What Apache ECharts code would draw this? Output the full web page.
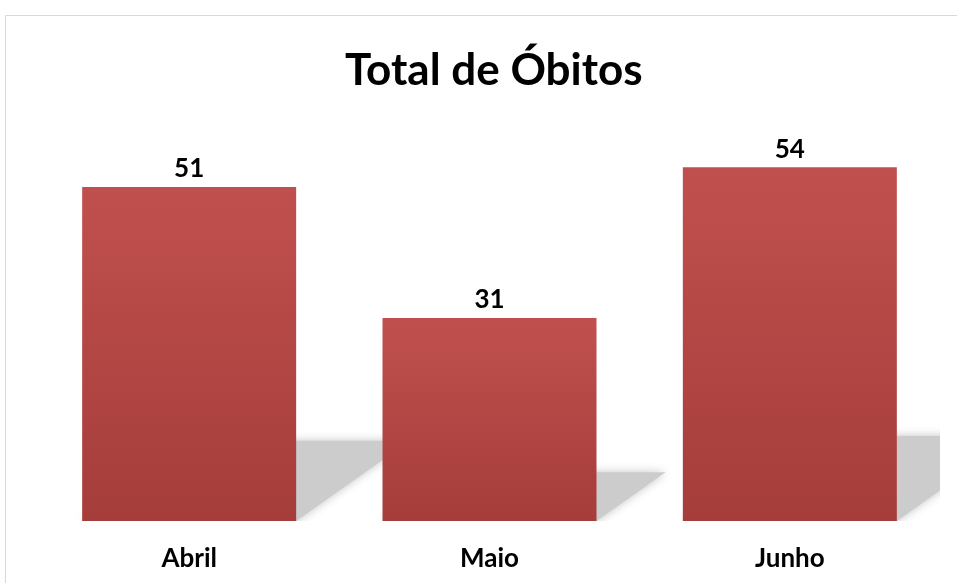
<!DOCTYPE html>
<html>
<head>
<meta charset="utf-8">
<script src="https://cdn.jsdelivr.net/npm/echarts@6/dist/echarts.min.js"></script>
<style>
html,body{margin:0;padding:0;background:#fff;}
#main{width:957px;height:583px;}
</style>
</head>
<body>
<div id="main"></div>
<script>
var meses = ['Abril', 'Maio', 'Junho'];
var obitos = [51, 31, 54];

window.onload = function(){
	grafico();
}

function grafico() {
	var myChart = echarts.init(document.getElementById('main'));
	var fonte = 'Lato';

	// sombra em perspectiva atrás de cada barra
	function sombra(params, api) {
		var idx = api.value(0);
		var v = api.value(1);
		var base = api.coord([idx, 0]);
		var topo = api.coord([idx, v]);
		var meia = 107;
		var h = base[1] - topo[1];
		var dx = h * 0.34, dy = h * 0.24;
		var x0 = base[0] - meia, x1 = base[0] + meia, y = base[1];
		return {
			type: 'polygon',
			shape: { points: [[x0, y], [x1, y], [x1 + dx, y - dy], [x0 + dx, y - dy]] },
			style: { fill: '#cccccc', shadowBlur: 10, shadowColor: 'rgba(190,190,190,0.9)' }
		};
	}

	myChart.setOption({
		backgroundColor: '#fff',
		animation: false,
		graphic: [{
			type: 'rect',
			shape: { x: 5.5, y: 15.5, width: 1000, height: 1000 },
			style: { fill: 'none', stroke: '#d9d9d9', lineWidth: 1 },
			z: -10
		}],
		title: {
			text: 'Total de Óbitos',
			left: 340,
			top: 44,
			textStyle: { fontFamily: fonte, fontWeight: 'bold', fontSize: 44, color: '#000' }
		},
		grid: { left: 39, right: 17, top: 128, bottom: 62 },
		xAxis: {
			type: 'category',
			data: meses,
			axisLine: { show: false },
			axisTick: { show: false },
			axisLabel: { margin: 25, fontFamily: fonte, fontWeight: 'bold', fontSize: 26, color: '#000' }
		},
		yAxis: {
			type: 'value',
			min: 0,
			max: 60,
			show: false,
			splitLine: { show: false }
		},
		series: [{
			type: 'custom',
			clip: true,
			renderItem: sombra,
			data: obitos.map(function(v, i){ return [i, v]; }),
			z: 1,
			silent: true
		}, {
			name: 'Óbitos',
			type: 'bar',
			data: obitos,
			barWidth: 214,
			z: 2,
			itemStyle: {
				color: new echarts.graphic.LinearGradient(0, 0, 0, 1, [
					{ offset: 0, color: '#C0504D' },
					{ offset: 1, color: '#A53D3B' }
				])
			},
			label: {
				show: true,
				position: 'top',
				distance: 5,
				fontFamily: fonte,
				fontWeight: 'bold',
				fontSize: 26,
				color: '#000'
			}
		}]
	});
}
</script>
</body>
</html>
